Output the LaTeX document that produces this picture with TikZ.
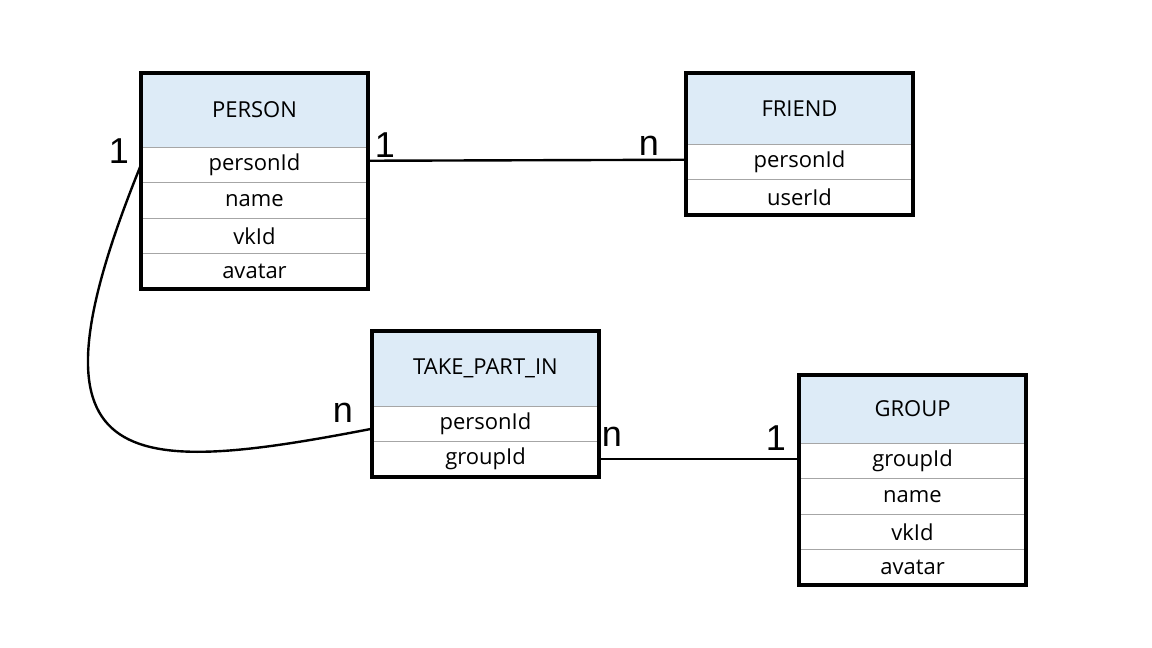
\documentclass[tikz,border=0pt]{standalone}
\usepackage{fontspec}
\setmainfont{Open Sans}
\newfontfamily\cardfont{Liberation Sans}
\usetikzlibrary{positioning}
\definecolor{headblue}{HTML}{DDEBF7}
\definecolor{rowline}{HTML}{A6A6A6}
\newlength{\tablewidth}
\setlength{\tablewidth}{113.5pt}
\tikzset{head/.style = {anchor=north west,fill=headblue,draw=rowline,line width=0.5pt,minimum width=\tablewidth,inner sep=0pt,outer sep=0pt,font=\fontsize{11}{13}\selectfont}}
\tikzset{field/.style = {draw=rowline,line width=0.5pt,minimum width=\tablewidth,minimum height=17.75pt,inner sep=0pt,outer sep=0pt,font=\fontsize{11}{13}\selectfont}}
\tikzset{border/.style = {draw=black,line width=2pt}}
\tikzset{link/.style = {draw=black,line width=1.2pt}}
\tikzset{card/.style = {inner sep=0pt,font=\cardfont\fontsize{18}{20}\selectfont}}
\begin{document}
\begin{tikzpicture}[x=0.5pt,y=-0.5pt]
                \useasboundingbox (0,0) rectangle (1152,648);
                % PERSON
                \node[head,minimum height=37pt] (ph) at (141,73) {PERSON};
                \node[field,below=0pt of ph] (p1) {personId};
                \node[field,below=0pt of p1] (p2) {name};
                \node[field,below=0pt of p2] (p3) {vkId};
                \node[field,below=0pt of p3] (p4) {avatar};
                \draw[border] (ph.north west) rectangle (p4.south east);
                % FRIEND
                \node[head,minimum height=35.5pt] (fh) at (686,73) {FRIEND};
                \node[field,below=0pt of fh] (f1) {personId};
                \node[field,below=0pt of f1] (f2) {userId};
                \draw[border] (fh.north west) rectangle (f2.south east);
                % TAKE_PART_IN
                \node[head,minimum height=37.5pt] (th) at (372,331) {TAKE\_PART\_IN};
                \node[field,below=0pt of th] (t1) {personId};
                \node[field,below=0pt of t1] (t2) {groupId};
                \draw[border] (th.north west) rectangle (t2.south east);
                % GROUP
                \node[head,minimum height=34pt] (gh) at (799,375) {GROUP};
                \node[field,below=0pt of gh] (g1) {groupId};
                \node[field,below=0pt of g1] (g2) {name};
                \node[field,below=0pt of g2] (g3) {vkId};
                \node[field,below=0pt of g3] (g4) {avatar};
                \draw[border] (gh.north west) rectangle (g4.south east);
                % relations
                \draw[link] ([yshift=2pt]p1.east) -- ([yshift=1pt]f1.west);
                \node[card] (pf1) at (385,145) {1};
                \node[card] (pfn) at (649,146) {n};
                \draw[link] (p1.west) .. controls (15,475) and (122,477) .. ([yshift=-2.5pt]t1.west);
                \node[card] (pt1) at (119,151) {1};
                \node[card] (ptn) at (343,413) {n};
                \draw[link] (t2.east) -- ([yshift=0.75pt]g1.west);
                \node[card] (tgn) at (612,437) {n};
                \node[card] (tg1) at (776,438) {1};
            \end{tikzpicture}
\end{document}
